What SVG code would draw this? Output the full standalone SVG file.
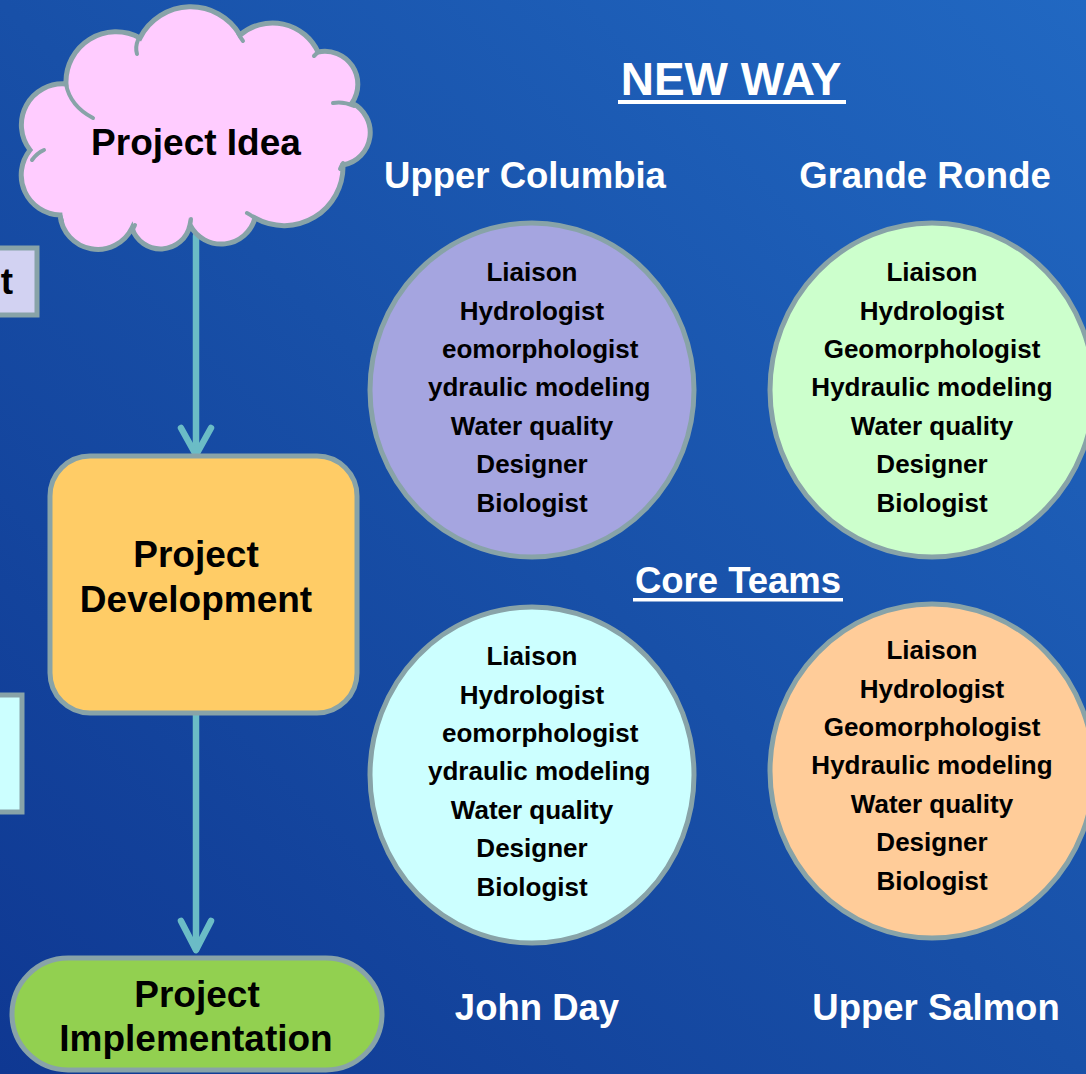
<svg xmlns="http://www.w3.org/2000/svg" width="1086" height="1074" viewBox="0 0 1086 1074">
  <defs>
    <linearGradient id="bg" x1="0" y1="1" x2="1" y2="0">
      <stop offset="0" stop-color="#0f3892"/>
      <stop offset="0.5" stop-color="#1850a8"/>
      <stop offset="1" stop-color="#2168c2"/>
    </linearGradient>
    <style>
      .shape { stroke: #88a3a8; stroke-width: 5; }
      .inner { fill: none; stroke: #88a3a8; stroke-width: 4; stroke-linecap: round; }
      .big { font-family: "Liberation Sans", Arial, sans-serif; font-weight: bold; font-size: 37px; fill: #000; text-anchor: middle; }
      .head { font-family: "Liberation Sans", Arial, sans-serif; font-weight: bold; font-size: 36.5px; fill: #fff; text-anchor: middle; }
      .role { font-family: "Liberation Sans", Arial, sans-serif; font-weight: bold; font-size: 26px; fill: #000; text-anchor: middle; }
      .conn { stroke: #6bbcc6; stroke-width: 6.5; fill: none; stroke-linecap: round; stroke-linejoin: round; }
    </style>
  </defs>

  <rect x="0" y="0" width="1086" height="1074" fill="url(#bg)"/>

  <!-- partial boxes at left edge -->
  <g id="partial-box-1">
    <rect class="shape" x="-10" y="248" width="47" height="67" fill="#d2d2f2" stroke-width="4"/>
    <text class="big" x="13" y="294" style="text-anchor:end">t</text>
  </g>
  <g id="partial-box-2">
    <rect class="shape" x="-10" y="695" width="32" height="117" fill="#ccffff" stroke-width="4"/>
  </g>

  <!-- connectors -->
  <g id="connectors">
    <line class="conn" x1="196" y1="236" x2="196" y2="454"/>
    <polyline class="conn" points="181,428 196,455 211,428"/>
    <line class="conn" x1="196" y1="715" x2="196" y2="949"/>
    <polyline class="conn" points="181,921 196,950 211,921"/>
  </g>

  <!-- Project Idea cloud -->
  <g id="project-idea">
    <path class="shape" fill="#ffccff" stroke-width="4.5" d="M 66,84
      A 50,50 0 0 1 140,38
      A 57,57 0 0 1 240,35
      A 50,50 0 0 1 318,52
      A 33,33 0 0 1 352,103
      A 33,33 0 0 1 343,165
      A 59,59 0 0 1 255,218
      A 35,35 0 0 1 190,225
      A 30,30 0 0 1 132,228
      A 38,38 0 0 1 60,215
      A 40,40 0 0 1 30,150
      A 41,41 0 0 1 66,84 Z"/>
    <path class="inner" d="M 66,84 Q 70,106 93,118"/>
    <path class="inner" d="M 138,40 Q 135,47 137,54"/>
    <path class="inner" d="M 238,33 Q 240,37 243,41"/>
    <path class="inner" d="M 318,52 Q 316,54 314,56"/>
    <path class="inner" d="M 354,106 Q 343,101 333,103"/>
    <path class="inner" d="M 343,163 Q 341,166 340,169"/>
    <path class="inner" d="M 256,219 Q 251,215 247,213"/>
    <path class="inner" d="M 190,225 Q 191,222 191,219"/>
    <path class="inner" d="M 133,229 Q 134,227 135,225"/>
    <path class="inner" d="M 60,215 Q 61,218 62,221"/>
    <path class="inner" d="M 32,160 Q 37,153 44,150"/>
    <text class="big" x="196" y="155">Project Idea</text>
  </g>

  <!-- Project Development -->
  <g id="project-development">
    <rect class="shape" x="50" y="456" width="307" height="257" rx="40" fill="#ffcc66"/>
    <text class="big" x="196" y="567">Project</text>
    <text class="big" x="196" y="612">Development</text>
  </g>

  <!-- Project Implementation -->
  <g id="project-implementation">
    <rect class="shape" x="12" y="958" width="370" height="112" rx="56" fill="#92d050"/>
    <text class="big" x="197" y="1007">Project</text>
    <text class="big" x="196" y="1051">Implementation</text>
  </g>

  <!-- titles -->
  <g id="new-way">
    <text class="head" x="731" y="95" style="font-size:46px">NEW WAY</text>
    <rect x="618" y="100" width="228" height="4" fill="#fff"/>
  </g>
  <g id="core-teams">
    <text class="head" x="738" y="593">Core Teams</text>
    <rect x="633" y="598" width="210" height="3.5" fill="#fff"/>
  </g>

  <!-- Upper Columbia -->
  <g id="upper-columbia">
    <text class="head" x="525" y="188">Upper Columbia</text>
    <ellipse class="shape" cx="532" cy="390" rx="162" ry="167" fill="#a5a5e0" stroke-width="4"/>
    <text class="role" x="532" y="281">Liaison</text>
    <text class="role" x="532" y="320">Hydrologist</text>
    <text class="role" x="442" y="358" style="text-anchor:start">eomorphologist</text>
    <text class="role" x="428" y="396" style="text-anchor:start">ydraulic modeling</text>
    <text class="role" x="532" y="435">Water quality</text>
    <text class="role" x="532" y="473">Designer</text>
    <text class="role" x="532" y="512">Biologist</text>
  </g>

  <!-- Grande Ronde -->
  <g id="grande-ronde">
    <text class="head" x="925" y="188">Grande Ronde</text>
    <ellipse class="shape" cx="932" cy="390" rx="162" ry="167" fill="#ccffcc" stroke-width="4"/>
    <text class="role" x="932" y="281">Liaison</text>
    <text class="role" x="932" y="320">Hydrologist</text>
    <text class="role" x="932" y="358">Geomorphologist</text>
    <text class="role" x="932" y="396">Hydraulic modeling</text>
    <text class="role" x="932" y="435">Water quality</text>
    <text class="role" x="932" y="473">Designer</text>
    <text class="role" x="932" y="512">Biologist</text>
  </g>

  <!-- John Day -->
  <g id="john-day">
    <ellipse class="shape" cx="532" cy="775" rx="162" ry="168" fill="#ccffff" stroke-width="4"/>
    <text class="role" x="532" y="665">Liaison</text>
    <text class="role" x="532" y="704">Hydrologist</text>
    <text class="role" x="442" y="742" style="text-anchor:start">eomorphologist</text>
    <text class="role" x="428" y="780" style="text-anchor:start">ydraulic modeling</text>
    <text class="role" x="532" y="819">Water quality</text>
    <text class="role" x="532" y="857">Designer</text>
    <text class="role" x="532" y="896">Biologist</text>
    <text class="head" x="537" y="1020">John Day</text>
  </g>

  <!-- Upper Salmon -->
  <g id="upper-salmon">
    <ellipse class="shape" cx="932" cy="771" rx="162" ry="167" fill="#ffcc99" stroke-width="4"/>
    <text class="role" x="932" y="659">Liaison</text>
    <text class="role" x="932" y="698">Hydrologist</text>
    <text class="role" x="932" y="736">Geomorphologist</text>
    <text class="role" x="932" y="774">Hydraulic modeling</text>
    <text class="role" x="932" y="813">Water quality</text>
    <text class="role" x="932" y="851">Designer</text>
    <text class="role" x="932" y="890">Biologist</text>
    <text class="head" x="936" y="1020">Upper Salmon</text>
  </g>
</svg>
